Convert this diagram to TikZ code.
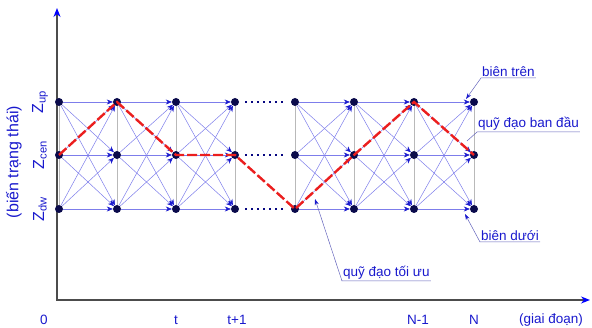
\documentclass[tikz,border=0pt]{standalone}
\usepackage{fontspec}
\setmainfont{Liberation Sans}
\usetikzlibrary{arrows.meta}
\definecolor{GridBlue}{RGB}{125,125,235}
\definecolor{TextBlue}{RGB}{25,25,205}
\definecolor{NodeNavy}{RGB}{10,10,75}
\definecolor{PathRed}{RGB}{235,30,30}

\begin{document}
\begin{tikzpicture}[x=1pt,y=-1pt,
      font=\fontsize{13.5}{16}\selectfont,
      state/.style={circle,fill=NodeNavy,inner sep=0pt,minimum size=8pt},
      trans/.style={GridBlue,line width=0.5pt,-{Stealth[length=6pt,width=5pt,color=TextBlue]}},
      rail/.style={gray!55,line width=0.8pt},
      gap/.style={NodeNavy!70!blue,line width=1.6pt,dash pattern=on 2pt off 4pt,shorten <=6pt,shorten >=4pt},
      optpath/.style={PathRed,line width=2.4pt,dash pattern=on 10pt off 3pt},
      axis/.style={gray!60!black,line width=1.4pt},
      lbl/.style={TextBlue,inner sep=1pt},
      big/.style={font=\fontsize{16}{18}\selectfont},
      leader/.style={GridBlue!80!black,line width=0.5pt},
      pointer/.style={leader,-{Stealth[length=6pt,width=4pt,color=TextBlue]}}
    ]
      \useasboundingbox (0,0) rectangle (592,328);

      % axes
      \coordinate (origin) at (57,300);
      \coordinate (ytip) at (57,8);
      \coordinate (xtip) at (590,300);
      \draw[axis,{Stealth[length=9pt,width=7pt,color=blue]}-{Stealth[length=9pt,width=7pt,color=blue]}]
        (ytip) -- (origin) -- (xtip);

      % states
      \foreach \c/\x in {0/59,1/117,2/176,3/235,4/295,5/354,6/414,7/474}
        \foreach \r/\y in {1/102,2/155,3/209}
          \node[state] (n-\c-\r) at (\x,\y) {};

      % vertical rails
      \foreach \c in {0,...,7}
        \draw[rail] (n-\c-1) -- (n-\c-2) -- (n-\c-3);

      % transitions
      \foreach \c/\d in {0/1,1/2,2/3,4/5,5/6,6/7}
        \foreach \r in {1,2,3}
          \foreach \s in {1,2,3}
            \draw[trans] (n-\c-\r) -- (n-\d-\s);

      \foreach \r in {1,2,3}
        \draw[gap] (n-3-\r) -- (n-4-\r);

      % optimal path
      \draw[optpath] (n-0-2.center) -- (n-1-1.center) -- (n-2-2.center) -- (n-3-2.center)
        -- (n-4-3.center) -- (n-5-2.center) -- (n-6-1.center) -- (n-7-2.center);

      % axis labels
      \node[lbl] (l0) at (44,320) {0};
      \node[lbl] (lt) at (176,320) {t};
      \node[lbl] (lt1) at (237,320) {t+1};
      \node[lbl] (lN1) at (418,320) {N-1};
      \node[lbl] (lN) at (474,320) {N};
      \node[lbl] (lstage) at (551,320) {(giai đoạn)};

      \node[lbl,big,rotate=90] (zup) at (40,102) {Z\textsubscript{up}};
      \node[lbl,big,rotate=90] (zcen) at (40,155) {Z\textsubscript{cen}};
      \node[lbl,big,rotate=90] (zdw) at (40,209) {Z\textsubscript{dw}};
      \node[lbl,big,rotate=90] (lstate) at (14,162) {(biến trạng thái)};

      % annotations
      \node[lbl,anchor=south west] (top) at (481,78) {biên trên};
      \node[lbl,anchor=south west] (init) at (477,132) {quỹ đạo ban đầu};
      \node[lbl,anchor=south west] (low) at (480,242) {biên dưới};
      \node[lbl,anchor=south west] (opt) at (342,281) {quỹ đạo tối ưu};

      \coordinate (topend) at (466,99);
      \coordinate (initend) at (467,141);
      \coordinate (lowend) at (465,214);
      \coordinate (optend) at (315,199);

      \draw[pointer] (top.south east) -- (top.south west) -- (topend);
      \draw[leader] (init.south east) -- (init.south west) -- (initend);
      \draw[pointer] (low.south east) -- (low.south west) -- (lowend);
      \draw[pointer] (opt.south east) -- (opt.south west) -- (optend);
    \end{tikzpicture}
\end{document}
